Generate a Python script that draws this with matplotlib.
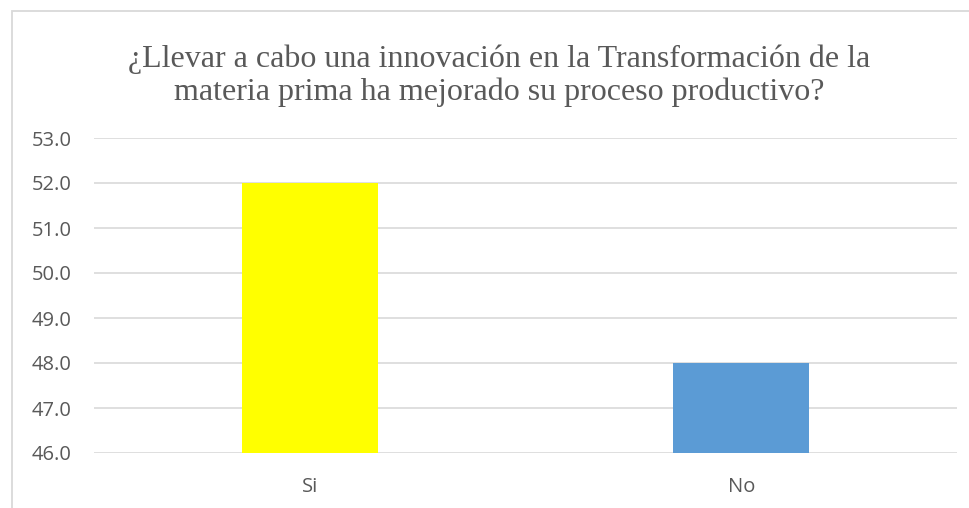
import matplotlib.pyplot as plt
from matplotlib.patches import Rectangle

# data
categories = ['Si', 'No']
values = [52.0, 48.0]
bar_colors = ['#FFFF00', '#5B9BD5']
y_ticks = [46, 47, 48, 49, 50, 51, 52, 53]

W, H = 970, 508
fig = plt.figure(figsize=(W / 100, H / 100), dpi=100)

# light frame around the chart area (runs off the right/bottom edge)
fig.patches.append(Rectangle((12 / W, -0.05), 1.1, 1 - 11 / H + 0.05,
                             transform=fig.transFigure, fill=False,
                             edgecolor='#D9D9D9', linewidth=1.3))

ax = fig.add_axes([94 / W, 1 - 453 / H, (957 - 94) / W, (453 - 138) / H])
ax.bar(range(len(categories)), [v - 46 for v in values], bottom=46,
       width=0.315, color=bar_colors, zorder=3)

ax.set_xlim(-0.5, 1.5)
ax.set_ylim(46, 53)
ax.set_yticks(y_ticks)
ax.set_yticklabels([f'{t:.1f}' for t in y_ticks])
ax.set_xticks(range(len(categories)))
ax.set_xticklabels(categories)
ax.grid(axis='y', color='#D9D9D9', linewidth=1.2, zorder=0)
for s in ax.spines.values():
    s.set_visible(False)
ax.tick_params(length=0, colors='#595959', labelsize=14.5)
ax.tick_params(axis='y', pad=16)
ax.tick_params(axis='x', pad=17)
for lbl in ax.get_xticklabels() + ax.get_yticklabels():
    lbl.set_fontfamily('Open Sans')

fig.text(499 / W, 1 - 76 / H,
         '¿Llevar a cabo una innovación en la Transformación de la\nmateria prima ha mejorado su proceso productivo?',
         ha='center', va='center', fontsize=23, color='#595959',
         family='Liberation Serif', linespacing=1.15)

fig.savefig('out.png', dpi=100)
